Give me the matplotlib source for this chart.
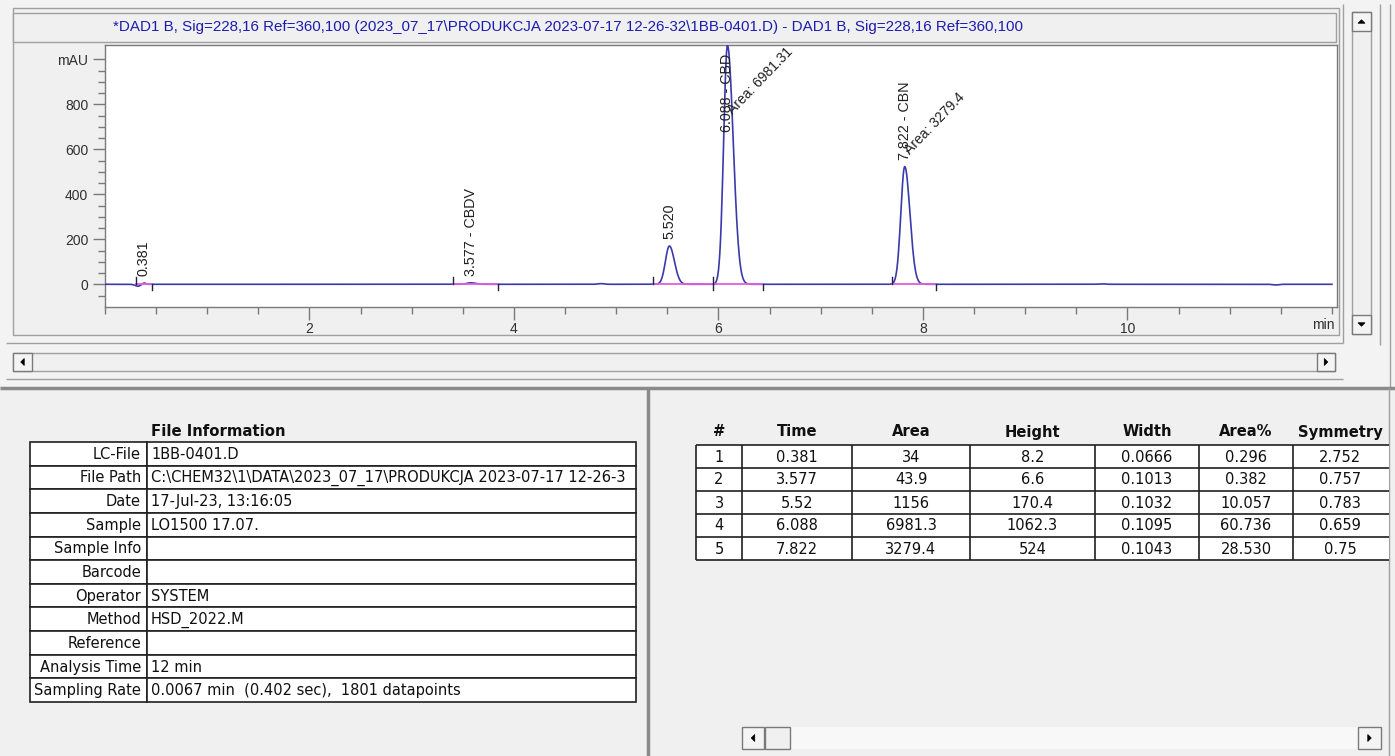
import numpy as np
import matplotlib.pyplot as plt
from matplotlib.patches import Rectangle, Polygon
from matplotlib.ticker import MultipleLocator, FixedLocator, FixedFormatter

# ---- data ----
title = ("*DAD1 B, Sig=228,16 Ref=360,100 (2023_07_17\\PRODUKCJA 2023-07-17 12-26-32\\1BB-0401.D)"
         " - DAD1 B, Sig=228,16 Ref=360,100")

peak_no = [1, 2, 3, 4, 5]
peak_time = [0.381, 3.577, 5.52, 6.088, 7.822]
peak_area = [34, 43.9, 1156, 6981.3, 3279.4]
peak_height = [8.2, 6.6, 170.4, 1062.3, 524]
peak_width = [0.0666, 0.1013, 0.1032, 0.1095, 0.1043]
peak_area_pct = [0.296, 0.382, 10.057, 60.736, 28.530]
peak_symmetry = [2.752, 0.757, 0.783, 0.659, 0.75]

peak_label = ["0.381", "3.577", "5.520", "6.088", "7.822"]
peak_name = ["", "CBDV", "", "CBD", "CBN"]
area_label = ["", "", "", "6981.31", "3279.4"]

# integration start / end marks on the baseline
peak_start = [0.30, 3.40, 5.36, 5.95, 7.70]
peak_end = [0.46, 3.84, 5.95, 6.44, 8.13]

# small baseline wobbles outside the peaks
wobble_time = [0.33, 4.85, 9.75, 11.45]
wobble_height = [-12, 3, 2, -3]

info_keys = ["LC-File", "File Path", "Date", "Sample", "Sample Info", "Barcode",
             "Operator", "Method", "Reference", "Analysis Time", "Sampling Rate"]
info_vals = ["1BB-0401.D", "C:\\CHEM32\\1\\DATA\\2023_07_17\\PRODUKCJA 2023-07-17 12-26-3",
             "17-Jul-23, 13:16:05", "LO1500 17.07.", "", "", "SYSTEM", "HSD_2022.M", "",
             "12 min", "0.0067 min  (0.402 sec),  1801 datapoints"]

table_cols = ["#", "Time", "Area", "Height", "Width", "Area%", "Symmetry"]

# ---- trace built from the peak table (1801 points over 12 min) ----
t = np.linspace(0, 12, 1801)
signal = np.zeros_like(t)
for rt, h, w, s in zip(peak_time, peak_height, peak_width, peak_symmetry):
    hl = w * s / (1 + s)
    hr = w / (1 + s)
    sig = np.where(t < rt, hl, hr) / np.sqrt(2 * np.log(2))
    signal += h * np.exp(-0.5 * ((t - rt) / sig) ** 2)
for rt, h in zip(wobble_time, wobble_height):
    signal += h * np.exp(-0.5 * ((t - rt) / 0.03) ** 2)

W, H = 1395, 756
fig = plt.figure(figsize=(W / 100, H / 100), dpi=100, facecolor='#f0f0f0')
ui = fig.add_axes([0, 0, 1, 1])
ui.set_xlim(0, W)
ui.set_ylim(H, 0)
ui.axis('off')

GRAY = '#a0a0a0'
DARK = '#7a7a7a'


def box(x0, y0, x1, y1, fc='none', ec=GRAY, lw=1.0, z=1):
    ui.add_patch(Rectangle((x0, y0), x1 - x0, y1 - y0, fc=fc, ec=ec, lw=lw, zorder=z))


def line(xs, ys, c=GRAY, lw=1.0, z=1):
    ui.plot(xs, ys, color=c, lw=lw, zorder=z, solid_capstyle='butt')


def arrow(cx, cy, d, size=3.5):
    if d == 'up':
        pts = [(cx - size, cy + size / 2), (cx + size, cy + size / 2), (cx, cy - size / 2)]
    elif d == 'down':
        pts = [(cx - size, cy - size / 2), (cx + size, cy - size / 2), (cx, cy + size / 2)]
    elif d == 'left':
        pts = [(cx + size / 2, cy - size), (cx + size / 2, cy + size), (cx - size / 2, cy)]
    else:
        pts = [(cx - size / 2, cy - size), (cx - size / 2, cy + size), (cx + size / 2, cy)]
    ui.add_patch(Polygon(pts, closed=True, fc='black', ec='black', lw=0.5, zorder=3))


# upper window
box(0, 0, 1395, 388, fc='#f3f3f3', ec='none', z=0)
box(13, 8, 1339, 335, fc='#f0f0f0', ec=GRAY)
box(13, 13, 1336, 42, fc='#f0f0f0', ec=GRAY)
ui.text(568, 27.5, title, ha='center', va='center', color='#1c1cb0', fontsize=10.9,
        family='Liberation Sans', zorder=3)

# vertical scrollbar
line([1343, 1343], [4, 343])
line([1380, 1380], [4, 345])
line([1390, 1390], [4, 388])
box(1352, 12, 1371, 334, fc='#f0f0f0', ec=GRAY)
box(1352, 12, 1371, 31, fc='#f4f4f4', ec=DARK)
box(1352, 315, 1371, 334, fc='#f4f4f4', ec=DARK)
arrow(1361.5, 21.5, 'up')
arrow(1361.5, 324.5, 'down')

# horizontal scrollbar
line([6, 1343], [343, 343])
line([6, 1343], [379, 379])
box(13, 353, 1335, 371, fc='#f0f0f0', ec=GRAY)
box(13, 353, 32, 371, fc='#f4f4f4', ec=DARK)
box(1317, 353, 1335, 371, fc='#f4f4f4', ec=DARK)
arrow(22.5, 362, 'left')
arrow(1326, 362, 'right')

# splitters
line([0, 1395], [388, 388], c='#8a8a8a', lw=2.5)
line([648, 648], [388, 756], c='#8a8a8a', lw=2.5)
line([1389, 1389], [388, 756], c=GRAY)

# ---- chromatogram ----
ax = fig.add_axes([105 / W, 1 - 307 / H, (1337 - 105) / W, (307 - 45) / H], zorder=2)
ax.set_facecolor('white')
ax.set_xlim(0, 12.05)
ax.set_ylim(-101, 1064)
for sp in ax.spines.values():
    sp.set_color(DARK)
    sp.set_linewidth(1.0)

ax.xaxis.set_major_locator(FixedLocator([2, 4, 6, 8, 10]))
ax.xaxis.set_minor_locator(MultipleLocator(0.5))
ax.yaxis.set_major_locator(FixedLocator([0, 200, 400, 600, 800, 1000]))
ax.yaxis.set_major_formatter(FixedFormatter(['0', '200', '400', '600', '800', 'mAU']))
ax.yaxis.set_minor_locator(FixedLocator(np.arange(-50, 1001, 50)))
ax.tick_params(which='major', direction='out', length=9, width=1, color=DARK,
               labelsize=10, labelcolor='#303030')
ax.tick_params(which='minor', direction='out', length=5, width=1, color=DARK)
ax.tick_params(axis='x', pad=2)
ax.tick_params(axis='y', pad=3)
for lab in ax.get_xticklabels() + ax.get_yticklabels():
    lab.set_family('Liberation Sans')
ui.text(1323, 325, 'min', ha='center', va='center', fontsize=10, color='#303030',
        family='Liberation Sans', zorder=3)

ax.plot(t, signal, color='#3a3aaa', lw=1.2, zorder=3)
for s, e in zip(peak_start, peak_end):
    ax.plot([s, e], [0, 0], color='#e060e0', lw=1.3, zorder=4)
    ax.plot([s, s], [0, 31], color='#202040', lw=1.0, zorder=5)
    ax.plot([e, e], [0, -27], color='#202040', lw=1.0, zorder=5)

for rt, h, lab, name, ar in zip(peak_time, peak_height, peak_label, peak_name, area_label):
    y = min(h + 30, 678)
    txt = lab + (' - ' + name if name else '')
    ax.text(rt, y, txt, rotation=90, ha='center', va='bottom', fontsize=10.3,
            color='#202020', family='Liberation Sans', zorder=6)
    if ar:
        ax.text(rt + 0.075, min(h + 43, 745), 'Area: ' + ar, rotation=46,
                rotation_mode='anchor', ha='left', va='bottom', fontsize=10,
                color='#202020', family='Liberation Sans', zorder=6)

# ---- file information table ----
TF = 'DejaVu Sans'
FS = 10.5
ui.text(218, 431, 'File Information', ha='center', va='center', fontsize=10.7,
        fontweight='bold', family=TF, color='#101010')
row_h = (702 - 442) / len(info_keys)
for i, (k, v) in enumerate(zip(info_keys, info_vals)):
    y0 = 442 + i * row_h
    box(30, y0, 147, y0 + row_h, fc='white', ec='#202020', lw=1.2, z=1)
    box(147, y0, 636, y0 + row_h, fc='white', ec='#202020', lw=1.2, z=1)
    ui.text(141, y0 + row_h / 2 + 0.5, k, ha='right', va='center', fontsize=FS,
            family=TF, color='#101010', zorder=3)
    ui.text(151, y0 + row_h / 2 + 0.5, v, ha='left', va='center', fontsize=FS,
            family=TF, color='#101010', zorder=3)

# ---- peak table ----
col_edges = [696, 742, 852, 970, 1095, 1199, 1293, 1389]
rows = [[str(n), f"{a:g}", f"{b:g}", f"{c:g}", f"{d:g}", f"{e:.3f}", f"{f:g}"]
        for n, a, b, c, d, e, f in zip(peak_no, peak_time, peak_area, peak_height,
                                       peak_width, peak_area_pct, peak_symmetry)]
centers = [(col_edges[i] + col_edges[i + 1]) / 2 for i in range(len(table_cols))]
centers[-1] = 1340
for c, name in zip(centers, table_cols):
    ui.text(c, 432, name, ha='center', va='center', fontsize=10.6, fontweight='bold',
            family=TF, color='#101010')
trow_h = (560 - 445) / len(rows)
for r, vals in enumerate(rows):
    y0 = 445 + r * trow_h
    ui.add_patch(Rectangle((col_edges[0], y0), col_edges[-1] - col_edges[0], trow_h,
                           fc='white', ec='none', zorder=1))
    line([col_edges[0], col_edges[-1]], [y0, y0], c='#202020', lw=1.2, z=2)
    for c, v in zip(centers, vals):
        ui.text(c, y0 + trow_h / 2 + 0.5, v, ha='center', va='center', fontsize=FS,
                family=TF, color='#101010', zorder=3)
line([col_edges[0], col_edges[-1]], [560, 560], c='#202020', lw=1.2, z=2)
for x in col_edges[:-1]:
    line([x, x], [445, 560], c='#202020', lw=1.2, z=2)

# lower right scrollbar
box(742, 727, 1381, 749, fc='#f8f8f8', ec='none')
box(742, 727, 764, 749, fc='#f4f4f4', ec=DARK)
box(765, 727, 790, 749, fc='#f0f0f0', ec=DARK)
box(1358, 727, 1381, 749, fc='#f4f4f4', ec=DARK)
arrow(753, 738, 'left')
arrow(1369.5, 738, 'right')

fig.savefig('out.png', dpi=100, facecolor=fig.get_facecolor())
